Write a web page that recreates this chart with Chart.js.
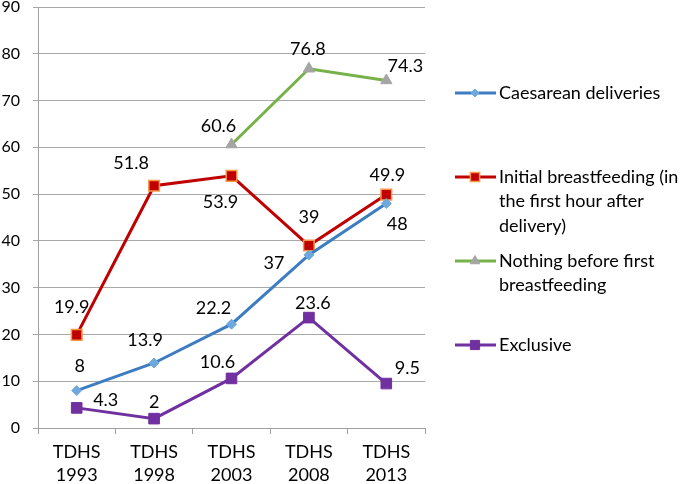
<!DOCTYPE html>
<html>
<head>
<meta charset="utf-8">
<script src="https://cdn.jsdelivr.net/npm/chart.js@4"></script>
<style>
  body { margin: 0; background: #fff; }
</style>
</head>
<body>
<canvas id="chart" width="685" height="484"></canvas>
<script>
const surveys = [['TDHS', '1993'], ['TDHS', '1998'], ['TDHS', '2003'], ['TDHS', '2008'], ['TDHS', '2013']];
const caesarean = [8, 13.9, 22.2, 37, 48];
const initialBf = [19.9, 51.8, 53.9, 39, 49.9];
const nothingBefore = [null, null, 60.6, 76.8, 74.3];
const exclusive = [4.3, 2, 10.6, 23.6, 9.5];
const legendNames = [
    ['Caesarean deliveries'],
    ['Initial breastfeeding (in', 'the first hour after', 'delivery)'],
    ['Nothing before first', 'breastfeeding'],
    ['Exclusive']
];

const FONT = 'Lato, "Open Sans", sans-serif';

// label offsets (dx, dy) from each point, per dataset
const labelOffsets = [
    [[3, -24], [-9, -23], [-18, -16], [-35, 8], [11, 21]],
    [[-5, -28], [-23, -23], [-11, 26], [0, -28], [1, -19]],
    [null, null, [-13, -18], [-1, -20], [19, -14]],
    [[29, -8], [0, -16], [-14, -16], [4, -14], [21, -15]]
];

const dataLabels = {
    id: 'dataLabels',
    afterDatasetsDraw(chart) {
        const ctx = chart.ctx;
        ctx.save();
        ctx.font = '18px ' + FONT;
        ctx.fillStyle = '#000';
        ctx.textAlign = 'center';
        ctx.textBaseline = 'middle';
        chart.data.datasets.forEach((ds, i) => {
            const meta = chart.getDatasetMeta(i);
            meta.data.forEach((pt, j) => {
                const v = ds.data[j];
                if (v === null) return;
                const off = labelOffsets[i][j];
                ctx.fillText(String(v), pt.x + off[0], pt.y + off[1]);
            });
        });
        ctx.restore();
    }
};

const sideLegend = {
    id: 'sideLegend',
    afterDraw(chart) {
        const ctx = chart.ctx;
        const rows = [93, 177, 261, 345];
        ctx.save();
        chart.data.datasets.forEach((ds, i) => {
            const y = rows[i];
            ctx.strokeStyle = ds.borderColor;
            ctx.lineWidth = 3;
            ctx.beginPath();
            ctx.moveTo(455, y);
            ctx.lineTo(496, y);
            ctx.stroke();
            ctx.fillStyle = ds.pointBackgroundColor;
            ctx.strokeStyle = ds.pointBorderColor;
            ctx.lineWidth = ds.pointBorderWidth;
            Chart.helpers.drawPoint(ctx, {
                pointStyle: ds.pointStyle,
                radius: ds.pointRadius - 1,
                borderWidth: ds.pointBorderWidth
            }, 475, y);
            ctx.fillStyle = '#000';
            ctx.font = '18px ' + FONT;
            ctx.textAlign = 'left';
            ctx.textBaseline = 'middle';
            legendNames[i].forEach((line, k) => {
                ctx.fillText(line, 499, y + k * 24.5);
            });
        });
        ctx.restore();
    }
};

const chart = new Chart(document.getElementById('chart'), {
    type: 'line',
    data: {
        labels: surveys,
        datasets: [{
            label: 'Caesarean deliveries',
            data: caesarean,
            borderColor: '#3C7DC2',
            borderWidth: 3,
            pointStyle: 'rectRot',
            pointRadius: 5,
            pointBackgroundColor: '#6FA8DC',
            pointBorderColor: '#6FA8DC',
            pointBorderWidth: 1
        }, {
            label: 'Initial breastfeeding',
            data: initialBf,
            borderColor: '#C00000',
            borderWidth: 3,
            pointStyle: 'rect',
            pointRadius: 7.5,
            pointBackgroundColor: '#C00000',
            pointBorderColor: '#F79646',
            pointBorderWidth: 1.5
        }, {
            label: 'Nothing before first breastfeeding',
            data: nothingBefore,
            borderColor: '#77B149',
            borderWidth: 3,
            pointStyle: 'triangle',
            pointRadius: 6.5,
            pointBackgroundColor: '#A5A5A5',
            pointBorderColor: '#A5A5A5',
            pointBorderWidth: 1
        }, {
            label: 'Exclusive',
            data: exclusive,
            borderColor: '#7030A0',
            borderWidth: 3,
            pointStyle: 'rect',
            pointRadius: 7.5,
            pointBackgroundColor: '#7030A0',
            pointBorderColor: '#7030A0',
            pointBorderWidth: 1
        }]
    },
    options: {
        responsive: false,
        animation: false,
        spanGaps: false,
        layout: { autoPadding: false, padding: { left: 0, right: 260, top: 0, bottom: 0 } },
        plugins: {
            legend: { display: false },
            tooltip: { enabled: false }
        },
        scales: {
            x: {
                offset: true,
                grid: {
                    offset: true,
                    drawOnChartArea: false,
                    drawTicks: true,
                    tickLength: 6,
                    color: '#A0A0A0'
                },
                border: { color: '#A0A0A0', width: 1 },
                ticks: {
                    color: '#000',
                    font: { family: FONT, size: 18, lineHeight: 1.28 },
                    padding: 7
                },
                afterFit(scale) {
                    scale.height = 56;
                    scale.paddingLeft = 0;
                    scale.paddingRight = 0;
                }
            },
            y: {
                min: 0,
                max: 90,
                ticks: {
                    stepSize: 10,
                    color: '#000',
                    font: { family: FONT, size: 16 },
                    padding: 13
                },
                grid: { color: '#A8A8A8', tickLength: 5 },
                border: { color: '#A0A0A0', width: 1 },
                afterFit(scale) {
                    scale.width = 38;
                    scale.paddingTop = 7;
                    scale.paddingBottom = 0;
                }
            }
        }
    },
    plugins: [dataLabels, sideLegend]
});
</script>
</body>
</html>
